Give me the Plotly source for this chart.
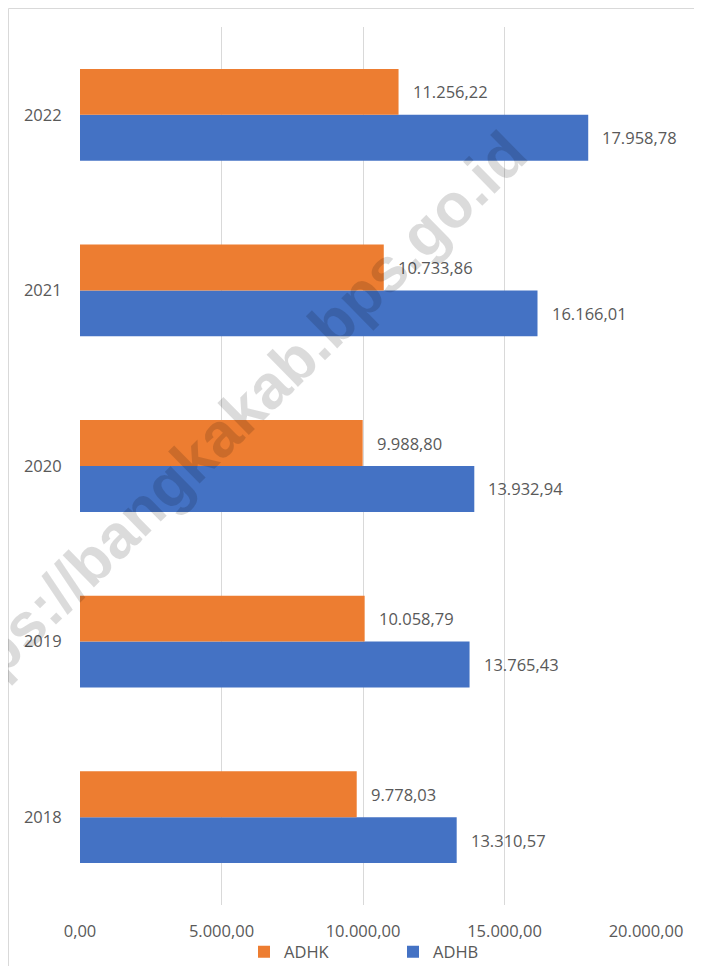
import plotly.graph_objects as go

years = ["2018", "2019", "2020", "2021", "2022"]
adhk = [9778.03, 10058.79, 9988.80, 10733.86, 11256.22]
adhb = [13310.57, 13765.43, 13932.94, 16166.01, 17958.78]
x_ticks = [0, 5000, 10000, 15000, 20000]

ORANGE = "#ED7D31"
BLUE = "#4472C4"
GREY_TXT = "#595959"
FONT = "Open Sans"
FS = 16.5

# page body adds an 8px offset; figure coords = page coords - 8
OFF = 8
W, H = 694, 958
ML, MT = 80 - OFF, 27 - OFF
PW, PH = 566, 878
MR = W - ML - PW
MB = H - MT - PH

bargap = 0.477


def fmt_id(v):
    s = f"{v:,.2f}"
    return s.replace(",", "X").replace(".", ",").replace("X", ".")


def px(xp):
    return (xp - OFF - ML) / PW


def py(yp):
    return 1 - (yp - OFF - MT) / PH


fig = go.Figure()
fig.add_trace(go.Bar(
    y=years, x=adhb, name="ADHB", orientation="h",
    marker=dict(color=BLUE, line=dict(width=0)), legendrank=2,
    hoverinfo="x+name",
))
fig.add_trace(go.Bar(
    y=years, x=adhk, name="ADHK", orientation="h",
    marker=dict(color=ORANGE, line=dict(width=0)), legendrank=1,
    hoverinfo="x+name",
))

half = (1 - bargap) / 4.0
annotations = []
for i, (k, b) in enumerate(zip(adhk, adhb)):
    annotations.append(dict(x=k, y=i + half, xref="x", yref="y", text=fmt_id(k),
                            showarrow=False, xanchor="left", yanchor="middle", xshift=12,
                            font=dict(family=FONT, size=FS, color=GREY_TXT)))
    annotations.append(dict(x=b, y=i - half, xref="x", yref="y", text=fmt_id(b),
                            showarrow=False, xanchor="left", yanchor="middle", xshift=12,
                            font=dict(family=FONT, size=FS, color=GREY_TXT)))

# watermark
annotations.append(dict(
    x=px(222), y=py(432), xref="paper", yref="paper",
    text="<b>https://bangkakab.bps.go.id</b>", showarrow=False, textangle=-44.5,
    xanchor="center", yanchor="middle",
    font=dict(family="Liberation Sans", size=62, color="rgba(0,0,0,0.14)"),
))

shapes = [dict(
    type="rect", xref="paper", yref="paper",
    x0=px(8.5), x1=px(720),
    y0=py(990), y1=py(8.5),
    line=dict(color="#d9d9d9", width=1), fillcolor="rgba(0,0,0,0)", layer="below",
)]

fig.update_layout(
    width=W, height=H,
    margin=dict(l=ML, r=MR, t=MT, b=MB, autoexpand=False),
    paper_bgcolor="white", plot_bgcolor="white",
    barmode="group", bargap=bargap, bargroupgap=0,
    separators=",.",
    font=dict(family=FONT, size=FS, color=GREY_TXT),
    showlegend=True,
    legend=dict(orientation="h", x=px(244), xanchor="left",
                y=py(952), yanchor="middle",
                font=dict(family=FONT, size=FS, color=GREY_TXT),
                bgcolor="rgba(0,0,0,0)", traceorder="normal",
                entrywidth=104, entrywidthmode="pixels"),
    annotations=annotations,
    shapes=shapes,
)
fig.update_xaxes(
    range=[0, 20000], tickvals=x_ticks, tickformat=",.2f",
    showgrid=True, gridcolor="#d9d9d9", gridwidth=1,
    zeroline=False, showline=False, automargin=False,
    ticks="outside", ticklen=11, tickcolor="rgba(0,0,0,0)",
    tickfont=dict(family=FONT, size=FS, color=GREY_TXT),
)
fig.update_yaxes(
    type="category", categoryorder="array", categoryarray=years,
    showgrid=False, zeroline=False, showline=False, automargin=False,
    ticks="outside", ticklen=14, tickcolor="rgba(0,0,0,0)",
    tickfont=dict(family=FONT, size=FS, color=GREY_TXT),
)

fig.write_html("out.html")
